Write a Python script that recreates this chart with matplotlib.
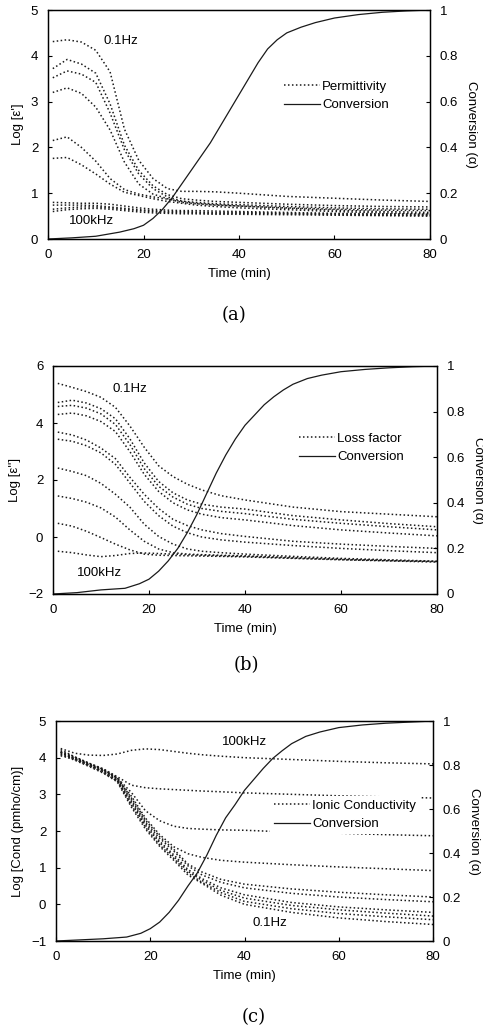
import matplotlib
matplotlib.use("Agg")
import matplotlib.pyplot as plt
from matplotlib.lines import Line2D

plt.rcParams['font.family'] = ['Liberation Sans', 'DejaVu Sans']
plt.rcParams['font.size'] = 9.5

# time grids (min)
t_diel = [1, 4, 7, 10, 13, 16, 19, 22, 25, 28, 31, 35, 40, 50, 60, 70, 80]
t_conv = [0, 5, 10, 15, 18, 20, 22, 24, 26, 28, 30, 32, 34, 36, 38, 40, 42, 44,
          46, 48, 50, 53, 56, 60, 65, 70, 75, 80]

# (a) Log permittivity, 0.1Hz (top) ... 100kHz (bottom)
perm = [
    [4.31, 4.35, 4.30, 4.12, 3.65, 2.40, 1.72, 1.32, 1.10, 1.04, 1.04, 1.03, 1.00, 0.93, 0.89, 0.85, 0.82],
    [3.72, 3.92, 3.82, 3.62, 2.95, 2.05, 1.50, 1.16, 0.97, 0.88, 0.85, 0.82, 0.80, 0.76, 0.73, 0.71, 0.70],
    [3.52, 3.67, 3.60, 3.42, 2.75, 1.95, 1.42, 1.10, 0.92, 0.83, 0.80, 0.77, 0.75, 0.71, 0.68, 0.66, 0.65],
    [3.20, 3.30, 3.18, 2.88, 2.38, 1.68, 1.20, 0.98, 0.88, 0.80, 0.77, 0.74, 0.72, 0.68, 0.65, 0.63, 0.62],
    [2.15, 2.23, 2.00, 1.70, 1.32, 1.08, 0.98, 0.92, 0.87, 0.82, 0.78, 0.75, 0.72, 0.67, 0.63, 0.60, 0.58],
    [1.76, 1.78, 1.62, 1.42, 1.20, 1.02, 0.95, 0.88, 0.82, 0.78, 0.74, 0.71, 0.68, 0.64, 0.60, 0.57, 0.55],
    [0.80, 0.79, 0.78, 0.78, 0.76, 0.72, 0.68, 0.65, 0.63, 0.62, 0.62, 0.61, 0.60, 0.58, 0.56, 0.55, 0.54],
    [0.74, 0.74, 0.74, 0.73, 0.70, 0.67, 0.64, 0.62, 0.60, 0.60, 0.59, 0.58, 0.58, 0.56, 0.55, 0.53, 0.52],
    [0.65, 0.68, 0.70, 0.70, 0.68, 0.65, 0.62, 0.60, 0.58, 0.58, 0.57, 0.56, 0.56, 0.55, 0.53, 0.52, 0.51],
    [0.60, 0.64, 0.66, 0.67, 0.65, 0.62, 0.59, 0.57, 0.56, 0.55, 0.55, 0.54, 0.54, 0.53, 0.52, 0.51, 0.50],
]

# (b) Log loss factor
loss = [
    [5.39, 5.25, 5.10, 4.90, 4.55, 3.90, 3.15, 2.50, 2.12, 1.85, 1.65, 1.45, 1.30, 1.05, 0.89, 0.80, 0.71],
    [4.72, 4.80, 4.70, 4.50, 4.15, 3.45, 2.60, 1.95, 1.55, 1.30, 1.15, 1.05, 0.98, 0.75, 0.60, 0.47, 0.36],
    [4.58, 4.62, 4.52, 4.32, 3.95, 3.25, 2.40, 1.78, 1.40, 1.15, 1.00, 0.90, 0.82, 0.62, 0.48, 0.36, 0.25],
    [4.30, 4.35, 4.25, 4.05, 3.70, 3.00, 2.20, 1.60, 1.20, 0.95, 0.80, 0.68, 0.60, 0.40, 0.25, 0.14, 0.04],
    [3.68, 3.58, 3.40, 3.12, 2.75, 2.10, 1.50, 1.00, 0.62, 0.40, 0.25, 0.12, 0.02, -0.15, -0.25, -0.33, -0.40],
    [3.43, 3.36, 3.20, 2.95, 2.55, 1.90, 1.25, 0.75, 0.38, 0.15, 0.00, -0.10, -0.18, -0.30, -0.40, -0.48, -0.55],
    [2.42, 2.30, 2.15, 1.88, 1.50, 1.05, 0.45, 0.02, -0.25, -0.42, -0.50, -0.55, -0.60, -0.68, -0.75, -0.80, -0.85],
    [1.44, 1.35, 1.22, 1.02, 0.70, 0.25, -0.15, -0.42, -0.55, -0.60, -0.62, -0.64, -0.66, -0.72, -0.78, -0.82, -0.86],
    [0.48, 0.38, 0.20, -0.02, -0.25, -0.45, -0.60, -0.64, -0.65, -0.66, -0.67, -0.68, -0.70, -0.75, -0.80, -0.84, -0.88],
    [-0.50, -0.55, -0.63, -0.69, -0.65, -0.58, -0.56, -0.58, -0.60, -0.62, -0.64, -0.66, -0.68, -0.74, -0.79, -0.83, -0.86],
]

# (c) Log ionic conductivity, 100kHz (top) ... 0.1Hz (bottom)
cond = [
    [4.25, 4.12, 4.07, 4.06, 4.10, 4.20, 4.24, 4.22, 4.17, 4.12, 4.08, 4.04, 4.00, 3.95, 3.90, 3.86, 3.83],
    [4.18, 4.02, 3.85, 3.70, 3.48, 3.25, 3.18, 3.15, 3.13, 3.11, 3.09, 3.07, 3.04, 3.00, 2.96, 2.93, 2.90],
    [4.15, 4.00, 3.83, 3.68, 3.45, 3.05, 2.55, 2.28, 2.13, 2.07, 2.05, 2.03, 2.02, 1.97, 1.94, 1.90, 1.87],
    [4.12, 3.98, 3.82, 3.66, 3.43, 2.95, 2.35, 1.90, 1.57, 1.38, 1.28, 1.20, 1.15, 1.08, 1.02, 0.97, 0.92],
    [4.22, 4.02, 3.85, 3.68, 3.45, 2.90, 2.30, 1.85, 1.50, 1.10, 0.88, 0.68, 0.55, 0.42, 0.33, 0.26, 0.20],
    [4.15, 4.00, 3.83, 3.66, 3.43, 2.85, 2.25, 1.80, 1.45, 1.05, 0.80, 0.60, 0.45, 0.30, 0.20, 0.13, 0.07],
    [4.10, 3.98, 3.81, 3.64, 3.40, 2.80, 2.20, 1.72, 1.35, 0.95, 0.70, 0.45, 0.26, 0.05, -0.07, -0.15, -0.22],
    [4.05, 3.96, 3.80, 3.62, 3.38, 2.75, 2.15, 1.68, 1.30, 0.90, 0.65, 0.38, 0.17, -0.03, -0.15, -0.24, -0.32],
    [4.15, 3.95, 3.78, 3.60, 3.36, 2.70, 2.10, 1.62, 1.25, 0.85, 0.60, 0.32, 0.08, -0.12, -0.25, -0.34, -0.42],
    [4.08, 3.93, 3.76, 3.58, 3.34, 2.65, 2.05, 1.58, 1.20, 0.80, 0.57, 0.25, 0.00, -0.22, -0.37, -0.47, -0.55],
]

# degree of conversion
conv_a = [0.0, 0.005, 0.012, 0.03, 0.045, 0.06, 0.09, 0.13, 0.18, 0.24, 0.30, 0.36, 0.42, 0.49,
          0.56, 0.63, 0.70, 0.77, 0.83, 0.87, 0.90, 0.925, 0.945, 0.965, 0.98, 0.99, 0.996, 1.0]
conv_b = [0.0, 0.006, 0.018, 0.025, 0.045, 0.065, 0.10, 0.145, 0.20, 0.27, 0.35, 0.44, 0.53, 0.61,
          0.68, 0.74, 0.785, 0.83, 0.865, 0.895, 0.92, 0.945, 0.96, 0.975, 0.985, 0.992, 0.997, 1.0]
conv_c = [0.0, 0.005, 0.01, 0.018, 0.035, 0.056, 0.086, 0.13, 0.185, 0.25, 0.31, 0.39, 0.48, 0.56,
          0.62, 0.685, 0.735, 0.785, 0.83, 0.865, 0.897, 0.93, 0.95, 0.97, 0.982, 0.99, 0.995, 1.0]

W, H = 483, 1029
fig = plt.figure(figsize=(W / 100, H / 100), dpi=100)

dot = (0, (1, 1.6))
ink = '#1a1a1a'

panels = [
    # curves, conv, ylim, yticks, ylabel, legend label, box (l, t, r, b) px, leg anchor px, notes, tag, tag y, tag x
    (perm, conv_a, (0, 5), range(0, 6), "Log [ε']", 'Permittivity', (48, 10, 430, 239), (280, 96),
     [(15.3, 4.32, '0.1Hz'), (9.2, 0.39, '100kHz')], '(a)', 315, 234),
    (loss, conv_b, (-2, 6), range(-2, 7, 2), "Log [ε'']", 'Loss factor', (53, 366, 437, 594), (295, 448),
     [(16.0, 5.19, '0.1Hz'), (9.6, -1.26, '100kHz')], '(b)', 665, 246),
    (cond, conv_c, (-1, 5), range(-1, 6), 'Log [Cond (pmho/cm)]', 'Ionic Conductivity', (56, 721, 433, 941), (270, 815),
     [(40.1, 4.43, '100kHz'), (45.4, -0.51, '0.1Hz')], '(c)', 1017, 254),
]

for curves, conv, ylim, yticks, ylab, leglab, box, anchor, notes, tag, tag_y, tag_x in panels:
    l, t, r, b = box
    ax = fig.add_axes([l / W, 1 - b / H, (r - l) / W, (b - t) / H])
    for c in curves:
        ax.plot(t_diel, c, color=ink, lw=1.1, linestyle=dot)
    ax.set_xlim(0, 80)
    ax.set_ylim(*ylim)
    ax.set_xticks(range(0, 81, 20))
    ax.set_yticks(list(yticks))
    ax.tick_params(direction='in', length=3, pad=7, labelsize=9.5)
    ax.set_xlabel('Time (min)', labelpad=5)
    ax.set_ylabel(ylab, labelpad=5)
    for x, y, s in notes:
        ax.text(x, y, s, ha='center', va='center', fontsize=9.5)

    ax2 = ax.twinx()
    ax2.plot(t_conv, conv, color=ink, lw=0.9)
    ax2.set_ylim(0, 1)
    ax2.set_yticks([0, 0.2, 0.4, 0.6, 0.8, 1.0])
    ax2.set_yticklabels(['0', '0.2', '0.4', '0.6', '0.8', '1'])
    ax2.tick_params(direction='in', length=3, pad=7, labelsize=9.5)
    ax2.set_ylabel('Conversion (α)', rotation=270, va='bottom', labelpad=5)
    for a in (ax, ax2):
        for sp in a.spines.values():
            sp.set_linewidth(0.9)

    handles = [Line2D([], [], color=ink, lw=1.1, linestyle=dot),
               Line2D([], [], color=ink, lw=0.9)]
    leg = ax2.legend(handles, [leglab, 'Conversion'], loc='center left',
                     bbox_to_anchor=(anchor[0] / W, 1 - anchor[1] / H),
                     bbox_transform=fig.transFigure, frameon=True, fancybox=False,
                     borderpad=0.3, borderaxespad=0, handlelength=2.7,
                     handletextpad=0.2, labelspacing=0.45, fontsize=9.5)
    leg.get_frame().set_edgecolor('none')
    leg.get_frame().set_facecolor('white')
    leg.get_frame().set_alpha(1)

    fig.text(tag_x / W, 1 - tag_y / H, tag, ha='center', va='center',
             fontsize=13, family='DejaVu Serif')

fig.savefig('out.png', dpi=100)
